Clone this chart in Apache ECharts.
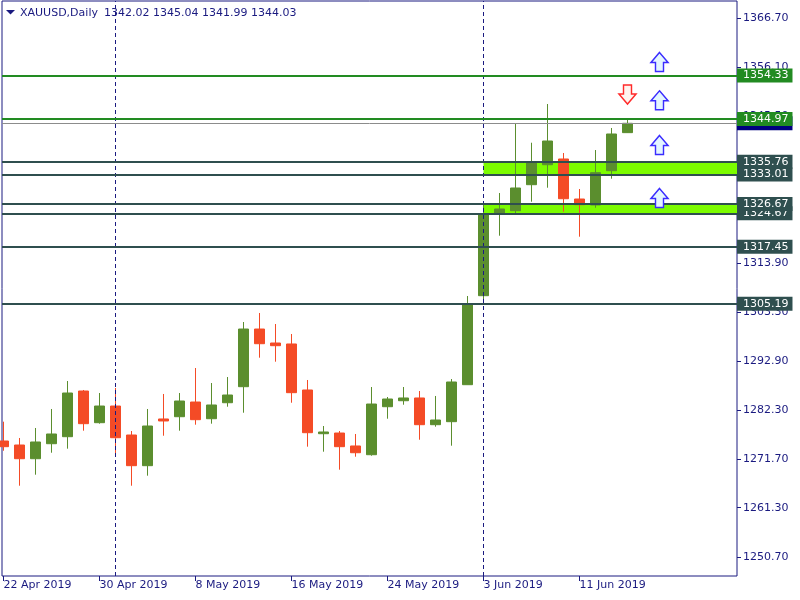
<!DOCTYPE html>
<html><head><meta charset="utf-8">
<script src="https://cdn.jsdelivr.net/npm/echarts@6/dist/echarts.min.js"></script>
<style>html,body{margin:0;padding:0;background:#fff}#c{width:800px;height:600px}</style>
</head><body><div id="c"></div>
<script>
const dates = ['2019-04-22','2019-04-23','2019-04-24','2019-04-25','2019-04-26','2019-04-29','2019-04-30',
  '2019-05-01','2019-05-02','2019-05-03','2019-05-06','2019-05-07','2019-05-08','2019-05-09','2019-05-10',
  '2019-05-13','2019-05-14','2019-05-15','2019-05-16','2019-05-17','2019-05-20','2019-05-21','2019-05-22',
  '2019-05-23','2019-05-24','2019-05-27','2019-05-28','2019-05-29','2019-05-30','2019-05-31',
  '2019-06-03','2019-06-04','2019-06-05','2019-06-06','2019-06-07','2019-06-10','2019-06-11','2019-06-12',
  '2019-06-13','2019-06-14'];
const opens  = [1275.66,1274.80,1271.85,1275.08,1276.59,1286.42,1279.60,1283.19,1276.95,1270.35,
  1280.40,1280.89,1284.05,1280.46,1283.90,1287.35,1299.76,1296.75,1296.54,1286.64,
  1277.23,1277.38,1274.59,1272.71,1283.04,1284.33,1284.92,1279.17,1279.82,1287.78,
  1306.93,1324.58,1325.22,1330.82,1335.12,1336.35,1327.74,1326.45,1333.83,1342.02];
const highs  = [1279.82,1276.31,1278.46,1282.55,1288.57,1286.64,1285.99,1287.07,1277.81,1282.55,
  1285.78,1285.99,1291.37,1288.14,1289.43,1301.27,1303.21,1300.84,1298.69,1288.79,
  1278.89,1277.81,1277.17,1287.28,1285.13,1287.28,1286.42,1285.35,1289.00,1306.86,
  1327.16,1329.03,1344.03,1339.85,1348.18,1337.64,1329.89,1338.28,1343.02,1345.04];
const lows   = [1273.57,1266.04,1268.41,1273.14,1274.01,1277.88,1279.39,1272.71,1266.04,1268.20,
  1276.80,1277.88,1279.17,1279.39,1283.04,1281.75,1293.59,1292.73,1283.90,1274.44,
  1273.36,1269.49,1272.28,1272.50,1280.46,1283.47,1275.94,1278.74,1274.65,1287.78,
  1305.85,1319.84,1324.36,1327.16,1330.17,1325.01,1319.63,1325.87,1332.11,1341.99];
const closes = [1274.44,1271.85,1275.45,1277.17,1285.99,1279.39,1283.19,1276.37,1270.35,1278.89,
  1279.97,1284.27,1280.25,1283.41,1285.56,1299.76,1296.60,1296.17,1286.06,1277.45,
  1277.60,1274.44,1273.14,1283.62,1284.70,1284.92,1279.17,1280.18,1288.36,1305.14,
  1324.51,1325.59,1330.11,1335.49,1340.22,1327.80,1326.51,1333.40,1341.73,1344.03];
const xTickIdx = [0,6,12,18,24,30,36];
const xTickLabels = ['22 Apr 2019','30 Apr 2019','8 May 2019','16 May 2019','24 May 2019','3 Jun 2019','11 Jun 2019'];
const yTicks = [1250.70,1261.30,1271.70,1282.30,1292.90,1303.30,1313.90,1324.30,1334.90,1345.50,1356.10,1366.70];
const slateLevels = [1305.19,1317.45,1324.67,1326.67,1333.01,1335.76];
const greenLevels = [1344.97,1354.33];
const bidPrice = 1344.03;
const zones = [[1324.67,1326.67],[1333.01,1335.76]];
const zoneStartIdx = 30;
const separatorIdx = [7,30];
const upArrows = [[41,1327.95],[41,1339.36],[41,1348.98],[41,1357.22]];
const downArrows = [[39,1350.23]];
const titleText = 'XAUUSD,Daily';
const titleValues = '1342.02 1345.04 1341.99 1344.03';

const NAVY = '#1a1a80', GREEN = '#5b8e2e', RED = '#f44b26', SLATE = '#2f4f4f', FOREST = '#228b22', LIME = '#7cfc00';
const FONT = 'DejaVu Sans';
const X_MIN = -0.09375, X_MAX = 45.84375;

function levelLine(v, color, bg) {
  return { yAxis: v, lineStyle: { color: color, width: 2, type: 'solid' },
    label: { show: true, position: 'end', distance: 0, formatter: v.toFixed(2), backgroundColor: bg,
      color: '#ffffff', padding: [1, 4, 0, 6], fontFamily: FONT, fontSize: 11, lineHeight: 13 } };
}
const mlData = [];
separatorIdx.forEach(i => mlData.push({ xAxis: i, lineStyle: { color: NAVY, width: 1, type: [4, 3] }, label: { show: false } }));
mlData.push({ yAxis: bidPrice, lineStyle: { color: '#8c8c8c', width: 1, type: 'solid' },
  label: { show: true, position: 'end', distance: 0, formatter: bidPrice.toFixed(2), backgroundColor: '#000080',
    color: '#ffffff', padding: [1, 4, 0, 6], fontFamily: FONT, fontSize: 11, lineHeight: 13 } });
slateLevels.forEach(v => mlData.push(levelLine(v, SLATE, SLATE)));
greenLevels.forEach(v => mlData.push(levelLine(v, FOREST, FOREST)));

const chart = echarts.init(document.getElementById('c'));
chart.setOption({
  animation: false,
  backgroundColor: '#ffffff',
  grid: { left: 2, top: 1, right: 63, bottom: 24, show: true, borderColor: NAVY, borderWidth: 1, backgroundColor: 'transparent' },
  xAxis: {
    type: 'value', min: X_MIN, max: X_MAX,
    axisLine: { show: false, onZero: false }, splitLine: { show: false },
    axisTick: { show: true, customValues: xTickIdx, length: 5, lineStyle: { color: NAVY } },
    axisLabel: { customValues: xTickIdx, formatter: v => xTickLabels[xTickIdx.indexOf(Math.round(v))] || '',
      align: 'left', margin: 4, color: NAVY, fontFamily: FONT, fontSize: 11 }
  },
  yAxis: {
    type: 'value', position: 'right', min: 1246.61, max: 1370.35, scale: true,
    axisLine: { show: false, onZero: false }, splitLine: { show: false },
    axisTick: { show: true, customValues: yTicks, length: 4, lineStyle: { color: NAVY } },
    axisLabel: { customValues: yTicks, formatter: v => v.toFixed(2), margin: 6, color: NAVY, fontFamily: FONT, fontSize: 11 }
  },
  series: [
    {
      type: 'candlestick',
      dimensions: ['idx', 'open', 'close', 'lowest', 'highest'],
      encode: { x: 'idx', y: ['open', 'close', 'lowest', 'highest'] },
      data: opens.map((o, i) => [i, o, closes[i], lows[i], highs[i]]),
      barWidth: 10,
      itemStyle: { color: GREEN, color0: RED, borderColor: GREEN, borderColor0: RED, borderWidth: 1 },
      markArea: {
        silent: true,
        itemStyle: { color: LIME, opacity: 1 },
        data: zones.map(z => [{ xAxis: zoneStartIdx, yAxis: z[0] }, { xAxis: X_MAX, yAxis: z[1] }])
      },
      markLine: { silent: true, symbol: ['none', 'none'], animation: false, data: mlData }
    },
    {
      type: 'scatter', z: 6, silent: true,
      data: upArrows,
      symbol: 'path://M8.5,0 L17,10 L12.5,10 L12.5,19 L4.5,19 L4.5,10 L0,10 Z',
      symbolSize: [17, 19],
      itemStyle: { color: '#e4f6ff', borderColor: '#3a2cff', borderWidth: 1.5, opacity: 1 }
    },
    {
      type: 'scatter', z: 6, silent: true,
      data: downArrows,
      symbol: 'path://M4.5,0 L12.5,0 L12.5,9 L17,9 L8.5,19 L0,9 L4.5,9 Z',
      symbolSize: [17, 19],
      itemStyle: { color: '#fff4ef', borderColor: '#ff2a2a', borderWidth: 1.5, opacity: 1 }
    }
  ],
  graphic: [
    { type: 'polygon', shape: { points: [[6, 10], [15, 10], [10.5, 14.5]] }, style: { fill: NAVY } },
    { type: 'text', x: 20, y: 13, style: { text: titleText, fill: NAVY, font: '11px "DejaVu Sans"', verticalAlign: 'middle' } },
    { type: 'text', x: 104, y: 13, style: { text: titleValues, fill: NAVY, font: '11px "DejaVu Sans"', verticalAlign: 'middle' } }
  ]
});
</script></body></html>
